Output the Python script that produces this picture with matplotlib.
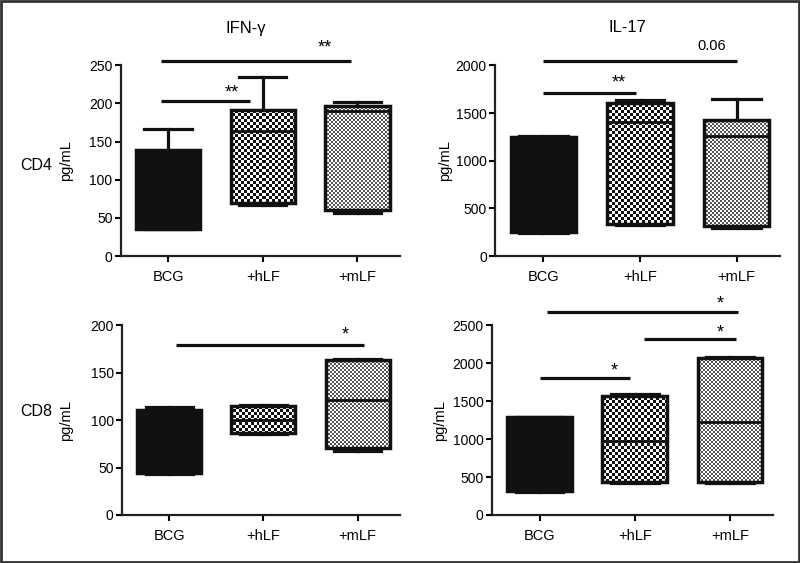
import matplotlib
matplotlib.use("Agg")
import matplotlib.pyplot as plt
import numpy as np
from matplotlib.colors import ListedColormap
from matplotlib.patches import Rectangle

plt.rcParams["font.family"] = ["Liberation Sans", "DejaVu Sans"]

groups = ["BCG", "+hLF", "+mLF"]

# CD4, IFN-gamma (pg/mL)
cd4_ifn_lo = [35, 67, 57]
cd4_ifn_q1 = [36, 70, 60]
cd4_ifn_med = [90, 164, 190]
cd4_ifn_q3 = [139, 192, 197]
cd4_ifn_hi = [167, 235, 202]

# CD4, IL-17
cd4_il17_lo = [240, 326, 298]
cd4_il17_q1 = [249, 337, 319]
cd4_il17_med = [700, 1407, 1264]
cd4_il17_q3 = [1246, 1607, 1432]
cd4_il17_hi = [1255, 1636, 1643]

# CD8, IFN-gamma
cd8_ifn_lo = [43, 85, 67]
cd8_ifn_q1 = [44, 86, 71]
cd8_ifn_med = [80, 100, 121]
cd8_ifn_q3 = [111, 115, 163]
cd8_ifn_hi = [114, 116, 164]

# CD8, IL-17
cd8_il17_lo = [300, 420, 420]
cd8_il17_q1 = [316, 438, 430]
cd8_il17_med = [800, 978, 1228]
cd8_il17_q3 = [1286, 1566, 2062]
cd8_il17_hi = [1295, 1590, 2085]

# significance bars: (x start, x end, y, label, label x, label y)
cd4_ifn_sig = [(-0.08, 1.93, 255, "**", 1.66, 262), (-0.08, 0.87, 203, "**", 0.67, 202)]
cd4_il17_sig = [(0.0, 2.0, 2042, "0.06", 1.74, 2130), (0.0, 0.96, 1705, "**", 0.78, 1730)]
cd8_ifn_sig = [(0.07, 2.07, 179, "*", 1.87, 181)]
cd8_il17_sig = [(0.08, 2.08, 2671, "*", 1.9, 2670), (1.1, 2.06, 2316, "*", 1.9, 2290),
                (0.0, 0.95, 1803, "*", 0.78, 1790)]

panels = [
    # rect, data, ylim, ystep, sig, ylabel x
    ([0.151, 0.545, 0.349, 0.339], (cd4_ifn_lo, cd4_ifn_q1, cd4_ifn_med, cd4_ifn_q3, cd4_ifn_hi),
     250, 50, cd4_ifn_sig, -0.172),
    ([0.619, 0.545, 0.356, 0.339], (cd4_il17_lo, cd4_il17_q1, cd4_il17_med, cd4_il17_q3, cd4_il17_hi),
     2000, 500, cd4_il17_sig, -0.151),
    ([0.1525, 0.0853, 0.3475, 0.337], (cd8_ifn_lo, cd8_ifn_q1, cd8_ifn_med, cd8_ifn_q3, cd8_ifn_hi),
     200, 50, cd8_ifn_sig, -0.176),
    ([0.615, 0.0853, 0.351, 0.337], (cd8_il17_lo, cd8_il17_q1, cd8_il17_med, cd8_il17_q3, cd8_il17_hi),
     2500, 500, cd8_il17_sig, -0.16),
]


def fill_pattern(ax, patch, cell, dark, light):
    fig = ax.figure
    bb = ax.get_position()
    w = int(round(bb.width * fig.get_figwidth() * fig.dpi / cell))
    h = int(round(bb.height * fig.get_figheight() * fig.dpi / cell))
    ii, jj = np.indices((h, w))
    arr = (ii + jj) % 2
    im = ax.imshow(arr, cmap=ListedColormap([light, dark]), extent=(0, 1, 0, 1),
                   transform=ax.transAxes, interpolation="nearest", aspect="auto", zorder=2.5)
    im.set_clip_path(patch)


fig = plt.figure(figsize=(8, 5.63), dpi=100)

for rect, (lo, q1, med, q3, hi), ymax, ystep, sig, ylab_x in panels:
    ax = fig.add_axes(rect)
    stats = [dict(whislo=lo[i], q1=q1[i], med=med[i], q3=q3[i], whishi=hi[i], fliers=[])
             for i in range(3)]
    bp = ax.bxp(stats, positions=[0, 1, 2], widths=0.68, patch_artist=True, showfliers=False,
                boxprops=dict(facecolor="none", edgecolor="#111111", linewidth=2.5, zorder=3),
                whiskerprops=dict(color="#111111", linewidth=2.3),
                capprops=dict(color="#111111", linewidth=2.3),
                medianprops=dict(color="#111111", linewidth=2.0, zorder=3.5),
                capwidths=0.5)
    bp["boxes"][0].set_facecolor("#111111")
    fill_pattern(ax, bp["boxes"][1], 3, "#111111", "white")
    fill_pattern(ax, bp["boxes"][2], 2, "#555555", "white")

    for x1, x2, y, label, tx, ty in sig:
        ax.plot([x1, x2], [y, y], color="#111111", lw=2.3, clip_on=False, solid_capstyle="butt")
        fs = 10.5 if label[0].isdigit() else 13
        ax.text(tx, ty, label, ha="center", va="bottom", fontsize=fs, clip_on=False)

    ax.set_xlim(-0.5, 2.45)
    ax.set_ylim(0, ymax)
    ax.set_yticks(np.arange(0, ymax + 1, ystep))
    ax.set_xticks([0, 1, 2])
    ax.set_xticklabels(groups, fontsize=10.5)
    ax.tick_params(axis="y", labelsize=10, length=4, width=1.5, pad=2)
    ax.tick_params(axis="x", length=4, width=1.5, pad=6)
    for s in ["top", "right"]:
        ax.spines[s].set_visible(False)
    for s in ["left", "bottom"]:
        ax.spines[s].set_linewidth(1.6)
        ax.spines[s].set_color("#222222")
    ax.set_ylabel("pg/mL", fontsize=10.5)
    ax.yaxis.set_label_coords(ylab_x, 0.5)

fig.text(246 / 800, 1 - 28 / 563, "IFN-γ", ha="center", va="center", fontsize=12)
fig.text(627 / 800, 1 - 28 / 563, "IL-17", ha="center", va="center", fontsize=12)
fig.text(36 / 800, 1 - 165 / 563, "CD4", ha="center", va="center", fontsize=11.5)
fig.text(36 / 800, 1 - 412 / 563, "CD8", ha="center", va="center", fontsize=11.5)

fig.add_artist(Rectangle((0.001, 0.002), 0.998, 0.996, transform=fig.transFigure,
                         fill=False, edgecolor="#333333", linewidth=2))

fig.savefig("out.png", dpi=100)
